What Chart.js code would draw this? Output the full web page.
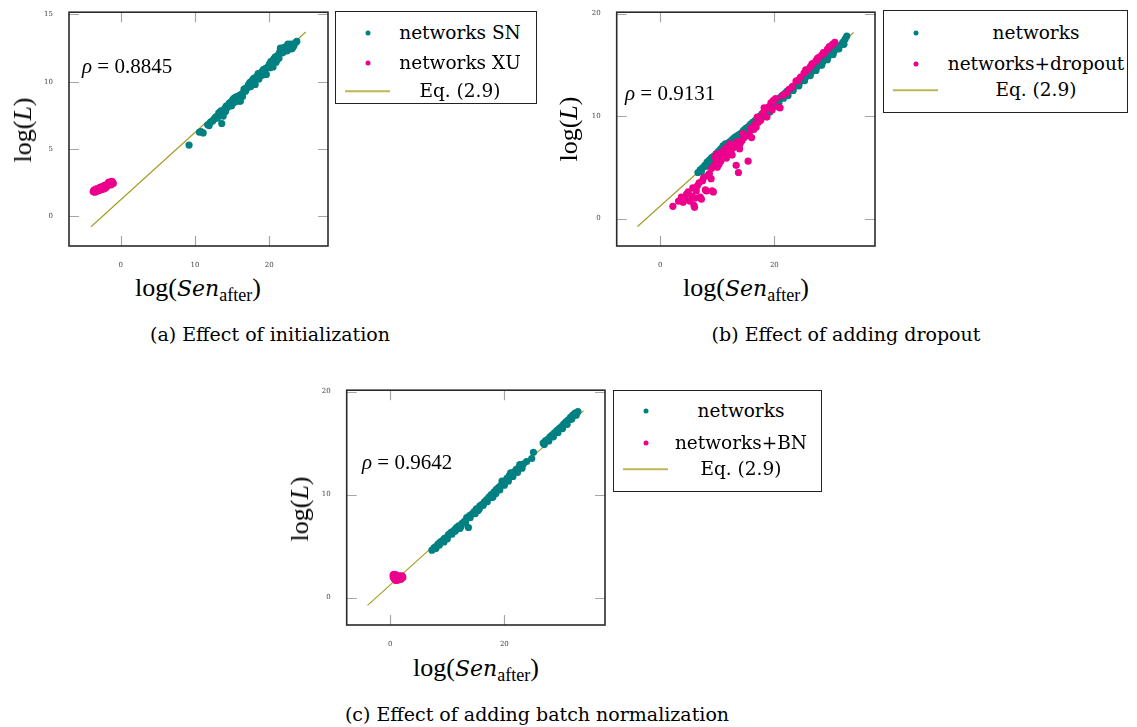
<!DOCTYPE html>
<html>
<head>
<meta charset="utf-8">
<script src="https://cdn.jsdelivr.net/npm/chart.js@4.4.1/dist/chart.umd.min.js"></script>
<style>
  html, body { margin: 0; padding: 0; background: #fff; }
  #fig { position: relative; width: 1137px; height: 727px; overflow: hidden; background: #fff; }
  canvas { position: absolute; }
  .t { position: absolute; white-space: nowrap; line-height: 1; color: #000; transform: translate(-50%, -50%); }
  .axis { font-family: 'Liberation Serif', serif; font-size: 26px; }
  .axis i { font-family: 'DejaVu Serif', serif; font-size: 22px; }
  .axis .m { font-family: 'Liberation Serif', serif; font-size: 26px; }
  .axis sub { font-family: 'Liberation Serif', serif; font-size: 18px; vertical-align: -0.3em; line-height: 0; }
  .ytitle { transform: translate(-50%, -50%) rotate(-90deg); }
  .rho { font-family: 'Liberation Serif', serif; font-size: 21px; transform: translate(0, -50%); }
  .cap { font-family: 'DejaVu Serif', serif; font-size: 19px; }
  .legend { position: absolute; border: 1.3px solid #222; background: #fff; box-sizing: border-box; }
  .legend .row { position: absolute; left: 0; right: 0; height: 0; }
  .legend .lbl { position: absolute; font-family: 'DejaVu Serif', serif; font-size: 18.5px; transform: translate(-50%, -50%); white-space: nowrap; line-height: 1; }
  .legend .dot { position: absolute; width: 5px; height: 5px; border-radius: 50%; transform: translate(-50%, -50%); }
  .legend .ln { position: absolute; height: 1.5px; transform: translateY(-50%); }
</style>
</head>
<body>
<div id="fig">
  <canvas id="chartA" width="334" height="270" style="left:0px;top:0px"></canvas>
  <canvas id="chartB" width="335" height="270" style="left:545px;top:0px"></canvas>
  <canvas id="chartC" width="335" height="270" style="left:275px;top:378px"></canvas>

  <div class="t axis ytitle" style="left:23px;top:130px">log(<i class="m" style="font-style:italic">L</i>)</div>
  <div class="t axis" style="left:198px;top:288px">log(<i>Sen</i><sub>after</sub>)</div>
  <div class="t rho" style="left:82px;top:66px"><i>ρ</i> = 0.8845</div>
  <div class="t cap" style="left:270px;top:334px">(a) Effect of initialization</div>

  <div class="t axis ytitle" style="left:569px;top:129px">log(<i class="m" style="font-style:italic">L</i>)</div>
  <div class="t axis" style="left:746px;top:288px">log(<i>Sen</i><sub>after</sub>)</div>
  <div class="t rho" style="left:625px;top:93px"><i>ρ</i> = 0.9131</div>
  <div class="t cap" style="left:846px;top:334px">(b) Effect of adding dropout</div>

  <div class="t axis ytitle" style="left:300px;top:509px">log(<i class="m" style="font-style:italic">L</i>)</div>
  <div class="t axis" style="left:476px;top:668px">log(<i>Sen</i><sub>after</sub>)</div>
  <div class="t rho" style="left:362px;top:462px"><i>ρ</i> = 0.9642</div>
  <div class="t cap" style="left:537px;top:714px">(c) Effect of adding batch normalization</div>
</div>
<script>
const TEAL = '#008080';
const MAGENTA = '#ec008c';
const OLIVE = '#a39b1f';

// (a) initialization: [log(Sen_after), log(L)]
const initSN = [
  [9.2, 5.3], [10.6, 6.25], [10.8, 6.3], [11.1, 6.2], [11.7, 6.8], [11.9, 6.75], [12.1, 7.0],
  [12.4, 7.1], [12.6, 7.25], [12.8, 7.4], [13.0, 7.3], [13.2, 7.7], [13.3, 7.6], [13.6, 6.9],
  [13.5, 7.85], [13.8, 7.45], [14.0, 8.0], [14.1, 7.8], [14.2, 8.2], [14.4, 8.1], [14.5, 8.25],
  [14.6, 8.4], [14.8, 8.5], [14.9, 8.2], [15.0, 8.35], [15.1, 8.7], [15.2, 8.45], [15.3, 8.8],
  [15.5, 8.6], [15.6, 8.9], [15.7, 8.55], [15.9, 8.75], [16.0, 9.0], [16.1, 8.55], [16.3, 9.1],
  [16.4, 8.9], [16.6, 9.45], [16.8, 9.3], [16.9, 9.55], [17.1, 9.55], [17.2, 9.8], [17.4, 9.95],
  [17.5, 9.65], [17.7, 10.1], [17.9, 10.25], [18.0, 10.0], [18.1, 9.8], [18.3, 10.4], [18.5, 10.6],
  [18.6, 10.2], [18.8, 10.45], [19.0, 10.75], [19.1, 10.5], [19.2, 10.9], [19.4, 10.7], [19.5, 11.0],
  [19.6, 10.55], [19.8, 11.1], [20.0, 11.3], [20.1, 11.05], [20.2, 11.5], [20.4, 11.35], [20.5, 11.1],
  [20.6, 11.7], [20.8, 11.85], [20.9, 11.45], [21.0, 11.6], [21.2, 12.0], [21.3, 11.75], [21.4, 12.2],
  [21.5, 12.5], [21.6, 12.4], [21.8, 12.15], [21.9, 12.45], [22.0, 12.55], [22.1, 12.3], [22.2, 12.6],
  [22.4, 12.3], [22.5, 12.8], [22.7, 12.6], [22.9, 12.8], [23.0, 12.45], [23.1, 12.5], [23.3, 12.65],
  [23.5, 12.9], [23.7, 13.0],
];
const initXU = [
  [-3.7, 1.85], [-3.6, 1.95], [-3.5, 1.8], [-3.4, 1.95], [-3.3, 1.85], [-3.3, 2.05], [-3.2, 1.9],
  [-3.1, 2.0], [-3.0, 1.9], [-2.9, 2.05], [-2.8, 1.95], [-2.8, 2.15], [-2.7, 2.1], [-2.6, 2.0],
  [-2.6, 2.2], [-2.5, 2.15], [-2.4, 2.05], [-2.3, 2.2], [-2.2, 2.3], [-2.2, 2.05], [-2.1, 2.25],
  [-2.0, 2.15], [-1.9, 2.35], [-1.9, 2.2], [-1.8, 2.3], [-1.7, 2.45], [-1.6, 2.4], [-1.6, 2.55],
  [-1.5, 2.5], [-1.4, 2.35], [-1.3, 2.55], [-1.3, 2.35], [-1.2, 2.5], [-1.2, 2.6], [-1.1, 2.55],
  [-1.0, 2.45],
];

// (b) dropout
const dropNet = [
  [6.6, 4.5], [7.0, 4.75], [7.2, 4.6], [7.4, 4.95], [7.8, 5.2], [8.0, 5.1], [8.2, 5.5], [8.6, 5.7],
  [8.8, 5.45], [9.0, 5.95], [9.4, 6.1], [9.6, 5.9], [9.8, 6.35], [10.2, 6.55], [10.4, 6.3],
  [10.6, 6.8], [11.0, 7.1], [11.2, 6.75], [11.4, 7.3], [11.8, 7.35], [12.0, 6.9], [12.2, 7.5],
  [12.6, 7.7], [13.0, 7.9], [13.2, 7.65], [13.4, 8.05], [13.8, 8.2], [14.0, 8.0], [14.2, 8.35],
  [14.6, 8.6], [14.8, 8.3], [15.0, 8.8], [15.4, 8.95], [15.6, 8.5], [15.8, 9.2], [16.2, 9.4],
  [16.4, 9.1], [16.6, 9.55], [17.0, 9.75], [17.2, 9.5], [17.4, 9.95], [17.8, 10.2], [18.0, 9.9],
  [18.2, 10.35], [18.6, 10.55], [18.8, 10.3], [19.0, 10.75], [19.2, 10.4], [19.4, 10.95], [19.8, 11.2],
  [20.0, 10.95], [20.2, 11.35], [20.6, 11.55], [20.8, 11.3], [21.0, 11.8], [21.4, 12.0], [21.6, 11.75],
  [21.8, 12.2], [22.2, 12.4], [22.4, 12.0], [22.6, 12.55], [23.0, 12.75], [23.3, 12.5], [23.6, 12.9],
  [24.0, 13.1], [24.3, 12.95], [24.5, 13.35], [25.0, 13.55], [25.3, 13.45], [25.5, 13.8], [26.0, 14.05],
  [26.3, 13.95], [26.5, 14.3], [27.0, 14.55], [27.3, 14.45], [27.5, 14.8], [28.0, 15.05], [28.3, 14.95],
  [28.5, 15.3], [29.0, 15.6], [29.3, 15.5], [29.5, 15.85], [30.0, 16.1], [30.3, 16.0], [30.5, 16.35],
  [31.0, 16.6], [31.3, 16.55], [31.5, 16.9], [32.0, 17.2], [32.2, 17.0], [32.4, 17.5], [32.7, 17.8],
];
const dropDrop = [
  [2.2, 1.2], [3.2, 1.7], [3.7, 2.1], [4.0, 1.6], [4.3, 1.9], [4.6, 2.4], [4.9, 2.6], [5.2, 1.7],
  [5.5, 2.2], [5.7, 3.0], [5.9, 1.3], [6.0, 1.1], [6.1, 2.0], [6.3, 2.7], [6.5, 3.2], [6.8, 3.5],
  [7.0, 2.1], [7.2, 1.9], [7.4, 3.7], [7.6, 4.0], [7.9, 2.8], [8.1, 2.7], [8.3, 4.2], [8.6, 4.4],
  [8.9, 3.9], [9.1, 2.7], [9.3, 2.6], [9.0, 4.9], [9.4, 5.1], [9.7, 5.4], [9.9, 6.3], [9.6, 6.0],
  [10.0, 5.0], [10.3, 5.3], [10.6, 5.6], [10.8, 6.5], [10.9, 5.9], [11.2, 6.1], [11.5, 6.9],
  [11.6, 5.9], [12.0, 6.4], [12.2, 7.3], [12.4, 6.6], [12.6, 6.2], [12.8, 6.9], [13.3, 5.2],
  [13.7, 4.5], [13.1, 7.1], [13.5, 7.5], [13.9, 6.8], [14.0, 7.3], [14.3, 7.6], [14.5, 8.3],
  [14.7, 7.9], [15.1, 8.1], [15.4, 5.6], [15.6, 8.2], [15.8, 8.8], [16.0, 7.9], [16.4, 8.7],
  [16.5, 9.2], [16.8, 8.9], [17.0, 9.9], [17.2, 9.4], [17.6, 9.6], [18.0, 10.3], [18.2, 10.8],
  [18.4, 10.6], [18.7, 9.9], [19.0, 10.9], [19.4, 11.3], [19.6, 10.6], [19.8, 11.5], [20.2, 11.7],
  [20.6, 10.9], [21.0, 10.8], [21.4, 12.0], [22.0, 12.2], [22.6, 12.6], [23.2, 12.9], [23.8, 13.4],
  [24.2, 13.5], [24.6, 13.8], [25.2, 14.2], [25.5, 14.5], [25.8, 14.5], [26.3, 14.8], [26.6, 15.1],
  [26.8, 15.1], [27.3, 15.4], [27.6, 15.65], [27.8, 15.7], [28.3, 15.95], [28.6, 16.2], [28.8, 16.2],
  [29.3, 16.5], [29.6, 16.75], [29.8, 16.8], [30.2, 17.0], [30.6, 17.2],
];

// (c) batch normalization
const bnNet = [
  [7.3, 4.6], [7.7, 4.85], [8.0, 4.75], [8.1, 5.0], [8.4, 5.2], [8.6, 5.1], [8.8, 5.4], [9.2, 5.55],
  [9.4, 5.4], [9.5, 5.75], [9.9, 5.85], [10.0, 5.7], [10.2, 6.1], [10.6, 6.3], [10.8, 6.15],
  [10.9, 6.4], [11.3, 6.6], [11.4, 6.45], [11.6, 6.8], [12.0, 6.95], [12.2, 6.7], [12.4, 6.9],
  [12.6, 7.2], [13.0, 7.4], [13.2, 7.3], [13.4, 7.75], [13.7, 6.8], [13.9, 7.95], [14.0, 7.75],
  [14.3, 8.1], [14.7, 8.35], [14.9, 8.15], [15.1, 8.6], [15.4, 8.45], [15.6, 8.6], [15.7, 8.9],
  [16.1, 9.05], [16.3, 8.95], [16.5, 9.3], [16.9, 9.5], [17.0, 9.3], [17.3, 9.75], [17.7, 10.0],
  [17.8, 9.7], [18.0, 9.75], [18.2, 10.25], [18.5, 10.1], [18.6, 10.5], [19.0, 10.7], [19.2, 10.45],
  [19.4, 10.9], [19.6, 11.3], [19.8, 11.1], [20.0, 10.9], [20.2, 11.35], [20.5, 11.6], [20.7, 11.3],
  [20.9, 11.85], [21.1, 12.1], [21.3, 12.0], [21.5, 11.75], [21.7, 12.2], [22.1, 12.45], [22.3, 12.15],
  [22.5, 12.6], [22.7, 12.9], [22.9, 12.8], [23.1, 12.55], [23.3, 12.95], [23.9, 13.2], [24.8, 13.5],
  [25.1, 14.1], [26.8, 15.0], [27.0, 14.85], [27.2, 15.2], [27.6, 15.35], [27.8, 15.2], [28.0, 15.6],
  [28.4, 15.8], [28.6, 15.6], [28.8, 16.0], [29.2, 16.2], [29.4, 16.0], [29.6, 16.4], [30.0, 16.6],
  [30.2, 16.4], [30.4, 16.85], [30.8, 17.05], [31.0, 16.8], [31.2, 17.25], [31.6, 17.5], [31.8, 17.3],
  [32.0, 17.7], [32.4, 17.9], [32.6, 17.7], [32.9, 18.05],
];
const bnBN = [
  [0.5, 2.0], [0.5, 2.2], [0.6, 2.2], [0.6, 1.95], [0.7, 1.8], [0.7, 2.25], [0.8, 2.1], [0.9, 1.9],
  [0.9, 2.05], [1.0, 2.2], [1.0, 1.65], [1.1, 1.75], [1.2, 2.0], [1.3, 1.7], [1.4, 2.05], [1.4, 1.7],
  [1.5, 1.8], [1.5, 2.1], [1.6, 1.9], [1.7, 1.75], [1.8, 1.85], [1.9, 2.0], [1.9, 1.8], [2.0, 2.1],
  [2.1, 2.05], [2.2, 1.95],
];

// Eq. (2.9) reference line, end points
const eqA = [[-4.0, -0.77], [24.9, 13.7]];
const eqBC = [[-4.0, -0.77], [33.9, 18.15]];

// axis ranges and ticks
const xRangeA = [-6.96, 27.9];
const yRangeA = [-2.2, 15.17];
const xRangeBC = [-7.65, 37.65];
const yRangeBC = [-2.67, 20.13];
const xTicksA = [0, 10, 20];
const yTicksA = [0, 5, 10, 15];
const xTicksBC = [0, 20];
const yTicksBC = [0, 10, 20];

const toPts = (arr) => arr.map(([x, y]) => ({ x, y }));

// pgfplots-like frame: box plus inward tick marks on all four sides
const frame = {
  id: 'frame',
  afterDraw(chart) {
    const {
      ctx, chartArea: {
        left, right, top, bottom,
      }, scales: { x, y },
    } = chart;
    ctx.save();
    ctx.strokeStyle = '#a6a6a6';
    ctx.lineWidth = 1.2;
    ctx.beginPath();
    x.ticks.forEach((t) => {
      const px = Math.round(x.getPixelForValue(t.value)) + 0.5;
      ctx.moveTo(px, bottom); ctx.lineTo(px, bottom - 10);
      ctx.moveTo(px, top); ctx.lineTo(px, top + 10);
    });
    y.ticks.forEach((t) => {
      const py = Math.round(y.getPixelForValue(t.value)) + 0.5;
      ctx.moveTo(left, py); ctx.lineTo(left + 10, py);
      ctx.moveTo(right, py); ctx.lineTo(right - 10, py);
    });
    ctx.stroke();
    ctx.strokeStyle = '#2a2a2a';
    ctx.lineWidth = 1.6;
    ctx.strokeRect(left, top, right - left, bottom - top);
    ctx.restore();
  },
};

function makeChart(id, panel) {
  const tickFont = { family: 'DejaVu Serif', size: 7 };
  return new Chart(document.getElementById(id), {
    type: 'scatter',
    data: {
      datasets: [
        {
          label: panel.labels[0],
          data: toPts(panel.net),
          backgroundColor: TEAL,
          pointRadius: 3.6,
          pointBorderWidth: 0,
          order: 2,
        },
        {
          label: panel.labels[1],
          data: toPts(panel.other),
          backgroundColor: MAGENTA,
          pointRadius: 3.6,
          pointBorderWidth: 0,
          order: 1,
        },
        {
          label: 'Eq. (2.9)',
          data: toPts(panel.eq),
          showLine: true,
          borderColor: OLIVE,
          borderWidth: 1.1,
          pointRadius: 0,
          order: 3,
        },
      ],
    },
    options: {
      responsive: false,
      animation: false,
      events: [],
      layout: { padding: panel.padding },
      plugins: {
        legend: { display: false },
        tooltip: { enabled: false },
      },
      scales: {
        x: {
          type: 'linear',
          min: panel.xRange[0],
          max: panel.xRange[1],
          grid: { display: false },
          border: { display: false },
          ticks: {
            font: tickFont, color: '#444', padding: 7, maxRotation: 0,
          },
          afterBuildTicks: (axis) => { axis.ticks = panel.xTicks.map((v) => ({ value: v })); },
          afterFit: (axis) => { axis.height = panel.xAxisH; },
        },
        y: {
          type: 'linear',
          min: panel.yRange[0],
          max: panel.yRange[1],
          grid: { display: false },
          border: { display: false },
          ticks: { font: tickFont, color: '#444', padding: 8 },
          afterBuildTicks: (axis) => { axis.ticks = panel.yTicks.map((v) => ({ value: v })); },
          afterFit: (axis) => { axis.width = panel.yAxisW; },
        },
      },
    },
    plugins: [frame],
  });
}

// legend boxes built from the chart datasets
function makeLegend(chart, box) {
  const fig = document.getElementById('fig');
  const el = document.createElement('div');
  el.className = 'legend';
  Object.assign(el.style, {
    left: `${box.left}px`, top: `${box.top}px`, width: `${box.width}px`, height: `${box.height}px`,
  });
  chart.data.datasets.forEach((ds, i) => {
    const row = document.createElement('div');
    row.className = 'row';
    row.style.top = `${box.rows[i]}px`;
    if (ds.showLine) {
      const ln = document.createElement('div');
      ln.className = 'ln';
      Object.assign(ln.style, { left: '9px', width: '45px', background: '#bfb655' });
      row.appendChild(ln);
    } else {
      const dot = document.createElement('div');
      dot.className = 'dot';
      Object.assign(dot.style, { left: '32px', background: ds.backgroundColor });
      row.appendChild(dot);
    }
    const lbl = document.createElement('div');
    lbl.className = 'lbl';
    lbl.style.left = `${box.textX}px`;
    lbl.textContent = ds.label;
    row.appendChild(lbl);
    el.appendChild(row);
  });
  fig.appendChild(el);
}

const chartA = makeChart('chartA', {
  labels: ['networks SN', 'networks XU'],
  net: initSN,
  other: initXU,
  eq: eqA,
  xRange: xRangeA,
  yRange: yRangeA,
  xTicks: xTicksA,
  yTicks: yTicksA,
  padding: {
    top: 10, right: 6, left: 0, bottom: 0,
  },
  yAxisW: 69,
  xAxisH: 24,
});
const chartB = makeChart('chartB', {
  labels: ['networks', 'networks+dropout'],
  net: dropNet,
  other: dropDrop,
  eq: eqBC,
  xRange: xRangeBC,
  yRange: yRangeBC,
  xTicks: xTicksBC,
  yTicks: yTicksBC,
  padding: {
    top: 10, right: 5, left: 0, bottom: 0,
  },
  yAxisW: 71.7,
  xAxisH: 24,
});
const chartC = makeChart('chartC', {
  labels: ['networks', 'networks+BN'],
  net: bnNet,
  other: bnBN,
  eq: eqBC,
  xRange: xRangeBC,
  yRange: yRangeBC,
  xTicks: xTicksBC,
  yTicks: yTicksBC,
  padding: {
    top: 10.3, right: 5, left: 0, bottom: 0,
  },
  yAxisW: 71.7,
  xAxisH: 23,
});

makeLegend(chartA, {
  left: 335, top: 11, width: 202, height: 93, rows: [21, 51, 79], textX: 124,
});
makeLegend(chartB, {
  left: 883, top: 10, width: 245, height: 103, rows: [22, 53, 79], textX: 152,
});
makeLegend(chartC, {
  left: 613, top: 390, width: 209, height: 102, rows: [20, 52, 78], textX: 127,
});
</script>
</body>
</html>
